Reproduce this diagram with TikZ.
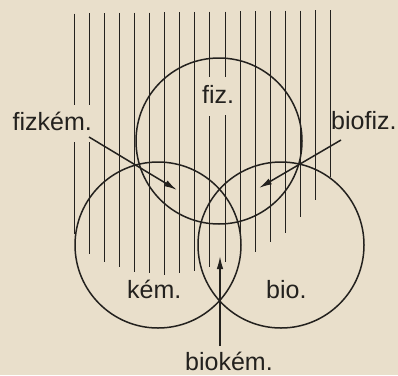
\documentclass[tikz,border=0pt]{standalone}
\usepackage{fontspec}
\setmainfont{Liberation Sans}
\usepackage{xcolor}
\usetikzlibrary{arrows.meta}

\definecolor{paper}{RGB}{233,223,203}
\definecolor{ink}{RGB}{35,33,30}

\tikzset{
    hatch/.style={ink, line width=0.9pt},
    ring/.style={ink, line width=1.5pt},
    pointer/.style={ink, line width=1.5pt, -{Latex[length=13pt,width=6.5pt]}},
    lbl/.style={ink, inner sep=0pt, anchor=base west, font=\fontsize{25}{30}\selectfont}
}

\begin{document}
\begin{tikzpicture}[x=1pt, y=-1pt]
    \fill[paper] (0,0) rectangle (398,375);
    \useasboundingbox (0,0) rectangle (398,375);

    % Vertical hatching over the physics field.
    \foreach \i/\ybot in {2/262, 3/267, 4/272, 5/273, 6/275, 7/273, 8/271,
                          11/257, 12/252, 13/242, 14/233, 15/217, 16/200, 17/177}
      \draw[hatch] ({74+15.1*\i}, {13.5-0.2*\i}) -- ({74+15.1*\i}, \ybot);

    % Hatch lines broken by a label.
    \foreach \i/\ybot/\ga/\gb in {0/234/105/142, 1/254/105/142,
                                  9/267/77/116, 10/262/77/115} {
      \draw[hatch] ({74+15.1*\i}, {13.5-0.2*\i}) -- ({74+15.1*\i}, \ga);
      \draw[hatch] ({74+15.1*\i}, \gb) -- ({74+15.1*\i}, \ybot);
    }

    % The three fields.
    \draw[ring] (219,141) circle (83);
    \draw[ring] (158,245) circle (83);
    \draw[ring] (281,245) circle (83);

    % Field labels.
    \node[lbl] (fiz) at (202,103) {fiz.};
    \node[lbl] (kem) at (127,298) {kém.};
    \node[lbl] (bio) at (266,298) {bio.};

    % Overlap labels.
    \node[lbl] (fizkem) at (12.5,130) {fizkém.};
    \node[lbl] (biofiz) at (331,129) {biofiz.};
    \node[lbl] (biokem) at (185,370) {biokém.};

    % Arrows into the overlaps.
    \coordinate (fizkem-from) at (89,137);
    \coordinate (fizkem-to) at (177,190);
    \coordinate (biofiz-from) at (341,140);
    \coordinate (biofiz-to) at (259,188);
    \coordinate (biokem-from) at (220,346);
    \coordinate (biokem-to) at (220,256);
    \draw[pointer] (fizkem-from) -- (fizkem-to);
    \draw[pointer] (biofiz-from) -- (biofiz-to);
    \draw[pointer] (biokem-from) -- (biokem-to);
\end{tikzpicture}
\end{document}
